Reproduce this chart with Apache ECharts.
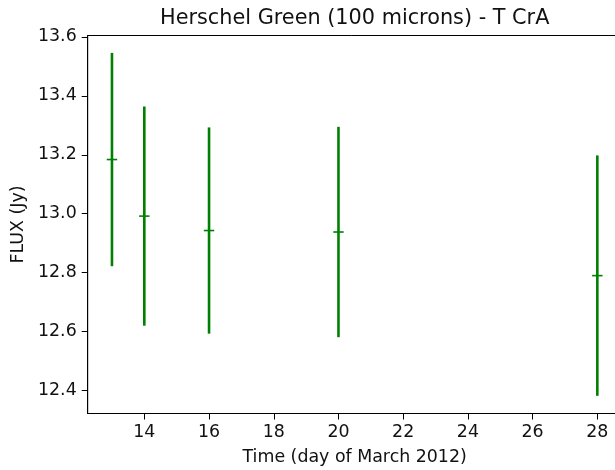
<!DOCTYPE html>
<html>
<head>
<meta charset="utf-8">
<script src="https://cdn.jsdelivr.net/npm/echarts@6/dist/echarts.min.js"></script>
<style>html,body{margin:0;padding:0;background:#fff;}#c{width:615px;height:470px;}</style>
</head>
<body>
<div id="c"></div>
<script>
var titleText = 'Herschel Green (100 microns) - T CrA';
var xLabel = 'Time (day of March 2012)';
var yLabel = 'FLUX (Jy)';
var days = [13, 14, 16, 20, 28];
var flux = [13.184, 12.992, 12.943, 12.938, 12.790];
var fluxErr = [0.362, 0.372, 0.350, 0.357, 0.408];
var xTicks = [14, 16, 18, 20, 22, 24, 26, 28];
var yTicks = [12.4, 12.6, 12.8, 13.0, 13.2, 13.4, 13.6];

var data = days.map(function (d, i) { return [d, flux[i], fluxErr[i]]; });
var FONT = 'DejaVu Sans';
var GREEN = '#008000';
var FS = 17.4;
var INK = '#111';

var chart = echarts.init(document.getElementById('c'), null, {renderer: 'canvas'});
chart.setOption({
  animation: false,
  backgroundColor: '#fff',
  grid: {left: 87.7, top: 35.5, width: 533.9, height: 378, show: true, borderColor: '#000', borderWidth: 1, backgroundColor: 'transparent', containLabel: false, outerBoundsMode: 'none'},
  graphic: [{
    type: 'text', x: 354.7, y: 19,
    style: {text: titleText, font: '20.8px "DejaVu Sans"', fill: INK, textAlign: 'center', textVerticalAlign: 'middle'}
  }],
  xAxis: {
    type: 'value', min: 12.25, max: 28.75,
    name: xLabel, nameLocation: 'middle', nameGap: 35.5,
    nameTextStyle: {fontFamily: FONT, fontSize: FS, color: INK},
    axisLine: {show: true, lineStyle: {color: '#000', width: 1}},
    axisTick: {show: true, length: 6, lineStyle: {color: '#000', width: 1}, customValues: xTicks},
    axisLabel: {fontFamily: FONT, fontSize: FS, color: INK, margin: 10, customValues: xTicks, formatter: function (v) { return String(v); }},
    splitLine: {show: false}
  },
  yAxis: {
    type: 'value', min: 12.322, max: 13.605,
    name: yLabel, nameLocation: 'middle', nameGap: 57, nameRotate: 90,
    nameTextStyle: {fontFamily: FONT, fontSize: FS, color: INK},
    axisLine: {show: true, lineStyle: {color: '#000', width: 1}},
    axisTick: {show: true, length: 6, lineStyle: {color: '#000', width: 1}, customValues: yTicks},
    axisLabel: {fontFamily: FONT, fontSize: FS, color: INK, margin: 11, customValues: yTicks, formatter: function (v) { return v.toFixed(1); }},
    splitLine: {show: false}
  },
  series: [{
    type: 'custom',
    data: data,
    clip: false,
    renderItem: function (params, api) {
      var x = api.value(0), y = api.value(1), e = api.value(2);
      var top = api.coord([x, y + e]);
      var bot = api.coord([x, y - e]);
      var c = api.coord([x, y]);
      return {
        type: 'group',
        children: [
          {type: 'line', shape: {x1: top[0], y1: top[1], x2: bot[0], y2: bot[1]}, style: {stroke: GREEN, lineWidth: 2.6}},
          {type: 'line', shape: {x1: c[0] - 5.2, y1: c[1], x2: c[0] + 5.2, y2: c[1]}, style: {stroke: GREEN, lineWidth: 1.6}}
        ]
      };
    }
  }]
});
</script>
</body>
</html>
